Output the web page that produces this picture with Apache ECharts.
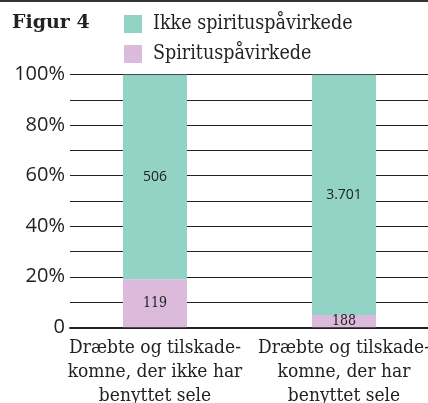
<!DOCTYPE html>
<html>
<head>
<meta charset="utf-8">
<script src="https://cdn.jsdelivr.net/npm/echarts@6/dist/echarts.min.js"></script>
<style>
  html, body { margin: 0; padding: 0; background: #fff; }
  #chart { width: 428px; height: 403px; }
</style>
</head>
<body>
<div id="chart"></div>
<script>
// Categories and counts
const categories = [
  'Dræbte og tilskade-\nkomne, der ikke har\nbenyttet sele',
  'Dræbte og tilskade-\nkomne, der har\nbenyttet sele'
];
const spiritCounts = [119, 188];       // Spirituspåvirkede
const soberCounts = [506, 3701];       // Ikke spirituspåvirkede
const yTicks = [0, 20, 40, 60, 80, 100];

const fmtCount = n => String(n).replace(/\B(?=(\d{3})+(?!\d))/g, '.');
const totals = spiritCounts.map((v, i) => v + soberCounts[i]);
const spiritPct = spiritCounts.map((v, i) => v / totals[i] * 100);
const soberPct = soberCounts.map((v, i) => v / totals[i] * 100);

const TEAL = '#92d3c5';
const PINK = '#dbbadb';
const SERIF = '"DejaVu Serif Condensed", "DejaVu Serif", serif';
const SANS = '"Open Sans", sans-serif';

const chart = echarts.init(document.getElementById('chart'), null, { renderer: 'canvas' });
chart.setOption({
  animation: false,
  backgroundColor: '#fff',
  title: {
    text: 'Figur 4',
    left: 7, top: 9,
    textStyle: { fontFamily: 'DejaVu Serif', fontWeight: 'bold', fontSize: 19, color: '#222' }
  },
  legend: {
    orient: 'vertical',
    left: 119, top: 9,
    itemWidth: 18, itemHeight: 18, itemGap: 10,
    icon: 'rect',
    data: ['Ikke spirituspåvirkede', 'Spirituspåvirkede'],
    textStyle: { fontFamily: SERIF, fontSize: 19.5, color: '#222', padding: [0, 0, 0, 6] }
  },
  graphic: [{
    type: 'rect', left: 0, top: 0,
    shape: { width: 428, height: 2 },
    style: { fill: '#333' }
  }],
  grid: [
    { left: 70, right: 0, top: 74.7, bottom: 75.7, outerBoundsMode: 'none' },
    { left: 60.5, right: -10.5, top: 74.7, bottom: 75.7, outerBoundsMode: 'none' }
  ],
  xAxis: [
    {
      gridIndex: 0, type: 'value', min: 0, max: 1,
      axisLine: { show: true, onZero: false, lineStyle: { color: '#222', width: 2 } },
      axisTick: { show: false }, axisLabel: { show: false }, splitLine: { show: false }
    },
    {
      gridIndex: 1, type: 'category', data: categories,
      axisLine: { show: false }, axisTick: { show: false },
      axisLabel: {
        margin: 9, lineHeight: 24, fontFamily: SERIF, fontSize: 19, color: '#222',
        interval: 0
      }
    }
  ],
  yAxis: [
    {
      gridIndex: 0, type: 'value', min: 0, max: 100, interval: 10,
      axisLine: { show: false }, axisTick: { show: false },
      axisLabel: {
        margin: 5, fontFamily: SANS, fontSize: 20, color: '#222',
        formatter: v => yTicks.includes(v) ? (v === 0 ? '0' : v + '%') : ''
      },
      splitLine: { lineStyle: { color: '#222', width: 1 } }
    },
    {
      gridIndex: 1, type: 'value', min: 0, max: 100, show: false
    }
  ],
  series: [
    {
      name: 'Spirituspåvirkede', type: 'bar', stack: 'tot',
      xAxisIndex: 1, yAxisIndex: 1, barWidth: 64,
      itemStyle: { color: PINK },
      data: spiritPct,
      label: {
        show: true, position: 'inside',
        fontFamily: SERIF, fontSize: 14, color: '#222',
        formatter: p => fmtCount(spiritCounts[p.dataIndex])
      }
    },
    {
      name: 'Ikke spirituspåvirkede', type: 'bar', stack: 'tot',
      xAxisIndex: 1, yAxisIndex: 1, barWidth: 64,
      itemStyle: { color: TEAL },
      data: soberPct,
      label: {
        show: true, position: 'inside',
        fontFamily: SANS, fontSize: 14, color: '#222',
        formatter: p => fmtCount(soberCounts[p.dataIndex])
      }
    }
  ]
});
</script>
</body>
</html>
